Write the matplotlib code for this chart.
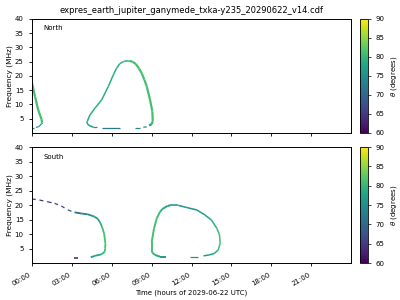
import numpy as np
import matplotlib
matplotlib.use("Agg")
import matplotlib.pyplot as plt
from matplotlib.collections import LineCollection

title = "expres_earth_jupiter_ganymede_txka-y235_20290622_v14.cdf"

# emission traces: time (hours), frequency (MHz), theta (degrees)
# --- North hemisphere ---
n1_t = [0.0, 0.23, 0.47, 0.73, 0.75, 0.73]
n1_f = [17.5, 12.7, 8.0, 4.6, 3.6, 3.2]
n1_th = [81, 81, 81, 81, 80, 79]
n1b_t = [0.73, 0.5, 0.3]
n1b_f = [3.2, 2.2, 1.9]
n1b_th = [78, 76, 76]
n1c_t = [0.0, 0.12]
n1c_f = [1.85, 1.85]
n1c_th = [74, 74]

n2_t = [4.62, 4.3, 4.13, 4.15, 4.36, 4.74, 5.24, 5.74, 6.12, 6.35, 6.6, 6.87, 7.1, 7.32]
n2_f = [2.0, 2.6, 3.4, 4.0, 6.3, 8.7, 11.6, 16.3, 20.4, 22.6, 24.3, 25.0, 25.3, 25.3]
n2_th = [76, 77, 78, 78, 79, 79, 79, 79, 79, 79, 79, 80, 80, 80]
n3_t = [7.32, 7.55, 7.8, 8.05, 8.25, 8.45, 8.63, 8.88, 9.05, 9.08, 9.0, 8.8]
n3_f = [25.3, 25.0, 24.2, 22.6, 20.9, 18.7, 16.3, 11.6, 7.5, 4.0, 3.1, 2.6]
n3_th = [80, 81, 81, 81, 81, 81, 81, 81, 81, 81, 79, 77]
n4_t = [4.62, 4.87]
n4_f = [1.9, 1.9]
n4_th = [75, 75]
n5_t = [5.24, 6.62]
n5_f = [1.75, 1.75]
n5_th = [72, 72]
n6_t = [7.75, 8.13]
n6_f = [1.8, 1.8]
n6_th = [74, 74]
n7_t = [8.37, 8.63]
n7_f = [2.0, 2.1]
n7_th = [75, 75]

# --- South hemisphere ---
s1_t = [0.0, 0.58, 1.2, 1.7, 2.2, 2.7, 3.2]
s1_f = [22.1, 21.7, 21.1, 20.6, 19.7, 18.3, 17.5]
s1_th = [64, 64, 65, 65, 66, 67, 69]
s2_t = [3.2, 3.7, 4.2, 4.7, 4.95, 5.1, 5.27, 5.42, 5.52, 5.5, 5.47, 5.22, 4.72, 4.42]
s2_f = [17.5, 17.1, 16.8, 16.0, 15.2, 14.2, 12.5, 10.2, 6.8, 5.0, 3.9, 3.0, 2.5, 2.0]
s2_th = [70, 72, 74, 76, 77, 78, 81, 81, 81, 81, 81, 79, 77, 76]
s3_t = [3.16, 3.46]
s3_f = [1.6, 1.6]
s3_th = [62, 62]
s4_t = [10.1, 9.63, 9.25, 9.05, 9.0, 9.0, 9.18, 9.38, 9.63, 9.8, 10.0, 10.2, 10.4]
s4_f = [2.2, 2.2, 2.8, 3.6, 4.5, 7.3, 12.0, 15.4, 17.7, 18.6, 19.2, 19.7, 19.9]
s4_th = [76, 77, 79, 80, 81, 81, 81, 81, 80, 79, 78, 77, 76]
s5_t = [10.4, 11.0, 11.6, 12.4, 13.0, 13.5, 13.9, 14.1, 14.15, 14.0, 13.7, 13.3, 12.9]
s5_f = [19.9, 19.9, 19.2, 18.3, 16.6, 14.8, 12.0, 9.7, 6.8, 4.5, 3.3, 2.8, 2.5]
s5_th = [75, 75, 75, 76, 77, 78, 80, 81, 81, 80, 78, 77, 76]
s6_t = [11.85, 12.45]
s6_f = [2.2, 2.2]
s6_th = [75, 75]

cticks = [60, 65, 70, 75, 80, 85, 90]
hours = [0, 3, 6, 9, 12, 15, 18, 21]

cmap = plt.get_cmap("viridis")
norm = plt.Normalize(60, 90)


def trace(ax, t, f, th, lw=0.9, ls="-"):
    pts = np.column_stack([t, f])
    segs = np.stack([pts[:-1], pts[1:]], axis=1)
    mid = (np.array(th[:-1]) + np.array(th[1:])) / 2
    lc = LineCollection(segs, cmap=cmap, norm=norm, linewidths=lw, linestyles=ls,
                        capstyle="butt")
    lc.set_array(mid)
    ax.add_collection(lc)
    return lc


fig = plt.figure(figsize=(4, 3), dpi=100)
ax1 = fig.add_axes([0.08, 0.557, 0.7975, 0.38])
ax2 = fig.add_axes([0.08, 0.123, 0.7975, 0.387])
cax1 = fig.add_axes([0.9, 0.557, 0.02, 0.38])
cax2 = fig.add_axes([0.9, 0.123, 0.02, 0.387])

trace(ax1, n1_t, n1_f, n1_th, lw=1.6)
trace(ax1, n1b_t, n1b_f, n1b_th)
trace(ax1, n1c_t, n1c_f, n1c_th)
trace(ax1, n2_t, n2_f, n2_th, lw=1.1)
trace(ax1, n3_t, n3_f, n3_th, lw=1.6)
for t, f, th in [(n4_t, n4_f, n4_th), (n5_t, n5_f, n5_th),
                 (n6_t, n6_f, n6_th), (n7_t, n7_f, n7_th)]:
    trace(ax1, t, f, th)

trace(ax2, s1_t, s1_f, s1_th, lw=0.9, ls=(0, (3, 3)))
trace(ax2, s2_t, s2_f, s2_th, lw=1.3)
trace(ax2, s3_t, s3_f, s3_th, lw=1.1)
trace(ax2, s4_t, s4_f, s4_th, lw=1.4)
trace(ax2, s5_t, s5_f, s5_th, lw=1.1)
trace(ax2, s6_t, s6_f, s6_th)

for ax, name, cax in [(ax1, "North", cax1), (ax2, "South", cax2)]:
    ax.set_xlim(0, 23.99)
    ax.set_ylim(0, 40)
    ax.set_yticks([5, 10, 15, 20, 25, 30, 35, 40])
    ax.set_xticks(hours)
    ax.tick_params(labelsize=5, length=2.5, width=0.6)
    ax.set_ylabel("Frequency (MHz)", fontsize=5.3, labelpad=1)
    ax.text(0.035, 0.9, name, transform=ax.transAxes, fontsize=5)
    for s in ax.spines.values():
        s.set_linewidth(0.7)
    sm = plt.cm.ScalarMappable(norm=norm, cmap=cmap)
    cb = fig.colorbar(sm, cax=cax, ticks=cticks)
    cb.ax.tick_params(labelsize=5, length=2, width=0.5)
    cb.outline.set_linewidth(0.6)
    cb.set_label(r"$\theta$ (degrees)", fontsize=5, labelpad=3)

ax1.set_xticklabels([])
ax2.set_xticklabels(["%02d:00" % h for h in hours], rotation=30, ha="right")
ax2.set_xlabel("Time (hours of 2029-06-22 UTC)", fontsize=5, labelpad=2)
ax1.set_title(title, fontsize=6, pad=4)

fig.savefig("out.png", dpi=100)
